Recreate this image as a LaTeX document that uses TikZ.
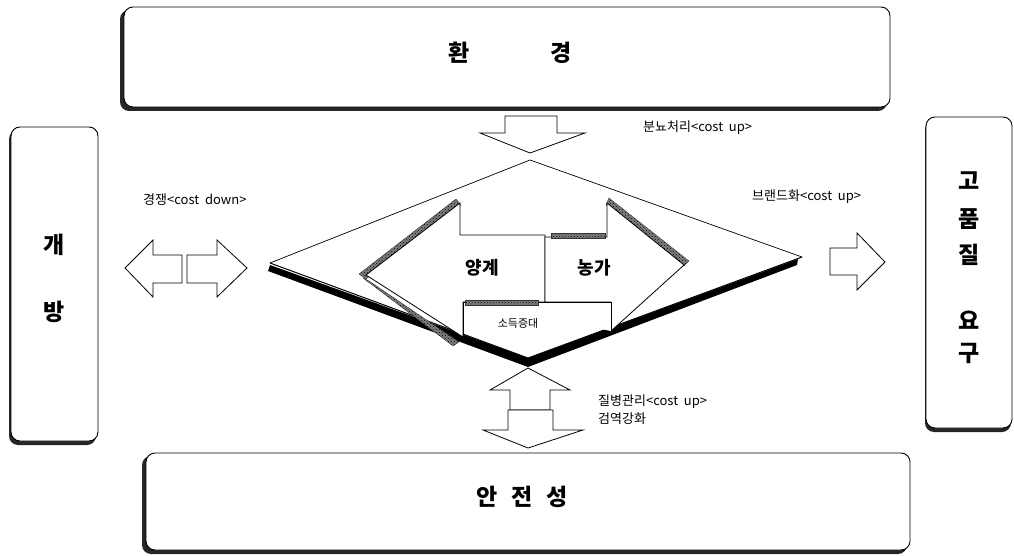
\documentclass[tikz,border=0pt]{standalone}
\usepackage{fontspec}
\setmainfont{Noto Sans CJK KR}
\usetikzlibrary{patterns,calc}
\begin{document}
\begin{tikzpicture}[x=1pt,y=-1pt,
 box/.style={draw=black, line width=0.9pt, fill=white, rounded corners=9pt},
 boxshadow/.style={fill=black!85, rounded corners=9pt},
 blk/.style={draw=black, line width=0.8pt, fill=white, line join=miter},
 hatch/.style={preaction={fill=black!50}, pattern=crosshatch dots, pattern color=black, draw=black!80, line width=0.3pt},
 big/.style={font=\fontsize{23}{25}\selectfont\bfseries, inner sep=0pt},
 mid/.style={font=\fontsize{18}{20}\selectfont\bfseries, inner sep=0pt},
 lab/.style={font=\fontsize{13}{14}\selectfont, inner sep=0pt, anchor=west},
]
\useasboundingbox (0,0) rectangle (1014,556);
% ---- top box
\fill[boxshadow] (120,10) rectangle (887,111);
\draw[box] (124,7) rectangle (890,107);
\node[big] (env) at (510,53) {환\hspace{80pt}경};
% ---- bottom box
\fill[boxshadow] (142,456) rectangle (907,554);
\draw[box] (146,453) rectangle (910,550);
\node[big] (safe) at (522,497) {안\hspace{14pt}전\hspace{14pt}성};
% ---- left box
\fill[boxshadow] (9,130) rectangle (96,445);
\draw[box] (11,127) rectangle (98,441);
\node[big] (open1) at (54,245) {개};
\node[big] (open2) at (54,312) {방};
% ---- right box
\fill[boxshadow] (925,120) rectangle (1011,432);
\draw[box] (926,117) rectangle (1012,428);
\node[big] (q1) at (969,181) {고};
\node[big] (q2) at (969,219) {품};
\node[big] (q3) at (969,255) {질};
\node[big] (q4) at (969,320) {요};
\node[big] (q5) at (969,353) {구};
% ---- diamond
\coordinate (T) at (530,160);
\coordinate (L) at (270,263);
\coordinate (R) at (802,257);
\coordinate (B) at (528,358);
\fill[black] (270,265) -- (528,358) -- (798,259) -- (797,265) -- (528,367) -- (268,271) -- cycle;
\fill[white] (L) -- (T) -- (R) -- (B) -- cycle;
\draw[line width=0.7pt] (L) -- (T) -- (R);
\draw[line width=1pt] (L) -- (B) -- (R);
% hatched bands
\fill[hatch] (359,274) -- (456,199) -- (461,205) -- (366,279) -- cycle;
\fill[hatch] (363,278) -- (369,281) -- (459,342) -- (453,346) -- cycle;
\fill[hatch] (609,198) -- (689,261) -- (684,266) -- (606,205) -- cycle;
% left arrow (yanggye)
\draw[blk] (366,275) -- (460,203) -- (460,235) -- (545,235) -- (545,302)
  -- (463,302) -- (463,337) -- cycle;
% right arrow (nongga)
\draw[blk] (684,265) -- (607,203) -- (607,237) -- (545,237) -- (545,302)
  -- (611,302) -- (611,331) -- cycle;
% small box
\draw[blk] (463,302) -- (611,302) -- (611,331);
\draw[blk, fill=none] (463,302) -- (463,337);
\fill[hatch] (551,233) rectangle (605,238);
\fill[hatch] (465,300) rectangle (538,305);
\node[mid] (poultry) at (482,268) {양계};
\node[mid] (farm) at (594,268) {농가};
\node[font=\fontsize{11}{12}\selectfont, inner sep=0pt] (income) at (518,323) {소득증대};
% ---- top down arrow
\draw[blk] (505,116) -- (557,116) -- (557,133) -- (585,133) -- (530,153)
  -- (480,133) -- (505,133) -- cycle;
\node[lab] (manure) at (643,128) {분뇨처리<cost~ up>};
% ---- left double arrow
\draw[blk] (125,268) -- (153,240) -- (153,255) -- (182,255) -- (182,283)
  -- (153,283) -- (153,297) -- cycle;
\draw[blk] (247,268) -- (217,240) -- (217,255) -- (187,255) -- (187,283)
  -- (217,283) -- (217,297) -- cycle;
\node[lab] (compete) at (143,200) {경쟁<cost~ down>};
% ---- right arrow
\draw[blk] (885,262) -- (857,233) -- (857,248) -- (830,248) -- (830,275)
  -- (857,275) -- (857,290) -- cycle;
\node[lab] (brand) at (752,197) {브랜드화<cost~ up>};
% ---- bottom double arrow
\draw[blk] (528,368) -- (570,390) -- (550,390) -- (550,410) -- (510,410)
  -- (510,390) -- (490,390) -- cycle;
\draw[blk] (528,448) -- (583,430) -- (553,430) -- (553,410) -- (508,410)
  -- (508,430) -- (483,430) -- cycle;
\node[lab] (disease) at (598,402) {질병관리<cost~ up>};
\node[lab] (quar) at (598,419) {검역강화};
\end{tikzpicture}
\end{document}
